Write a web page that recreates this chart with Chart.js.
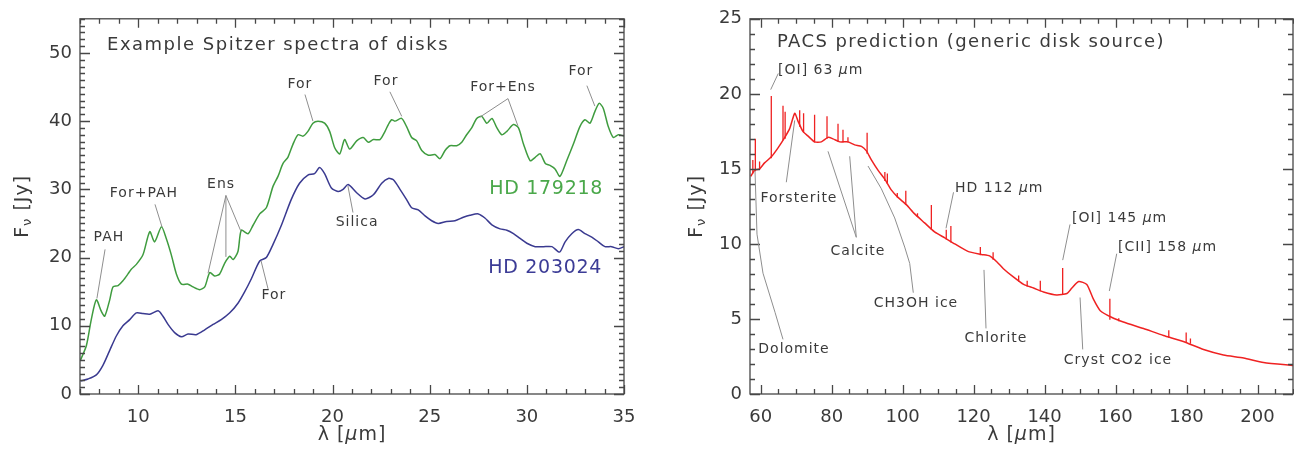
<!DOCTYPE html>
<html>
<head>
<meta charset="utf-8">
<script src="https://cdn.jsdelivr.net/npm/chart.js@4.4.1/dist/chart.umd.min.js"></script>
<style>
  html, body { margin: 0; padding: 0; background: #fff; }
  #wrap { position: relative; width: 1294px; height: 454px; }
  #left { position: absolute; left: 0; top: 0; }
  #right { position: absolute; left: 660px; top: 0; }
</style>
</head>
<body>
<div id="wrap">
  <canvas id="left" width="650" height="454"></canvas>
  <canvas id="right" width="634" height="454"></canvas>
</div>
<script>
// --- left panel: Spitzer spectra ---
const greenLam = [7.03,7.33,7.58,7.84,8.1,8.27,8.53,8.7,8.96,9.21,9.47,9.64,9.9,10.24,10.59,10.84,11.19,11.44,11.7,11.96,12.22,12.56,12.82,13.16,13.42,13.68,13.93,14.19,14.45,14.71,14.88,15.13,15.3,15.65,15.9,16.25,16.59,16.93,17.19,17.45,17.7,17.96,18.22,18.48,18.73,18.99,19.25,19.59,19.85,20.11,20.37,20.62,20.88,21.24,21.58,21.84,22.1,22.44,22.7,22.87,23.04,23.21,23.55,23.81,24.07,24.33,24.59,24.93,25.27,25.53,25.79,26.04,26.39,26.65,26.9,27.16,27.42,27.68,27.94,28.2,28.46,28.71,28.97,29.31,29.57,29.83,30.17,30.43,30.69,30.95,31.19,31.45,31.7,32.05,32.39,32.73,32.99,33.25,33.5,33.72,33.93,34.19,34.45,34.71,35.0];
const greenFlux = [5.0,7.1,10.9,13.8,12.1,11.4,13.8,15.7,15.9,16.6,17.6,18.3,19.0,20.4,23.8,22.3,24.5,22.8,20.4,17.6,16.1,16.1,15.7,15.3,15.7,17.8,17.3,17.6,19.2,20.2,19.7,20.9,24.0,23.5,24.7,26.4,27.3,30.4,31.9,33.8,34.7,36.6,38.0,37.8,38.5,39.7,40.0,39.7,38.5,36.1,35.2,37.3,35.9,37.1,37.6,36.9,37.3,37.3,38.5,39.5,40.2,40.0,40.4,39.2,37.6,37.1,35.7,35.0,35.1,34.5,35.7,36.4,36.4,36.9,38.0,39.0,40.4,40.7,39.7,40.4,39.0,38.0,38.5,39.5,39.0,36.6,34.2,34.7,35.2,33.8,33.5,33.0,31.9,34.2,36.6,39.2,40.2,39.7,41.4,42.6,41.9,39.2,37.6,38.0,37.8];

const blueLam = [7.03,7.41,7.84,8.18,8.53,8.87,9.21,9.56,9.9,10.24,10.59,11.02,11.27,11.53,11.87,12.22,12.56,12.98,13.42,13.85,14.27,14.71,15.13,15.48,15.82,16.25,16.59,16.93,17.36,17.87,18.3,18.73,19.07,19.33,19.59,19.94,20.28,20.54,20.8,21.24,21.67,22.1,22.53,22.87,23.13,23.47,23.81,24.07,24.41,24.76,25.1,25.44,25.87,26.3,26.73,27.07,27.5,27.84,28.2,28.62,28.97,29.31,29.65,30.0,30.43,30.85,31.29,31.68,31.97,32.31,32.65,32.99,33.34,33.68,34.02,34.36,34.71,35.0];
const blueFlux = [1.9,2.2,2.8,4.2,6.4,8.5,10.0,10.9,11.9,11.8,11.7,12.2,11.4,10.2,9.0,8.4,8.8,8.7,9.4,10.2,10.9,11.9,13.3,15.0,16.9,19.5,20.0,21.9,24.7,28.5,30.9,32.1,32.3,33.2,32.3,30.2,29.7,30.0,30.7,29.5,28.6,29.2,30.9,31.6,31.4,30.0,28.5,27.3,27.0,26.1,25.4,25.0,25.3,25.4,25.9,26.2,26.4,25.8,24.8,24.2,24.0,23.5,22.8,22.1,21.6,21.6,21.6,20.8,22.3,23.5,24.1,23.5,23.0,22.3,21.6,21.6,21.3,21.6];

const leftXTicks = [10, 15, 20, 25, 30, 35];
const leftYTicks = [0, 10, 20, 30, 40, 50];

// --- right panel: PACS prediction ---
const pacsLam = [57.2,58.3,59.7,61.1,63.0,64.9,66.8,68.2,69.6,70.5,71.9,73.3,75.2,77.1,79.0,80.4,82.3,84.6,86.5,88.4,89.8,91.2,93.1,95.0,96.8,98.7,101.1,103.4,106.2,109.0,111.9,114.7,118.4,122.2,124.5,126.6,128.4,131.2,134.1,136.9,139.7,143.4,146.3,147.7,149.6,151.9,153.8,155.7,159.0,162.2,167.9,173.5,179.1,184.8,190.4,196.1,201.7,210.0];
const pacsFlux = [14.5,14.9,15.0,15.4,15.8,16.4,17.1,17.7,18.7,18.2,17.5,17.2,16.8,16.8,17.1,17.0,16.8,16.8,16.6,16.5,16.2,15.6,14.9,14.3,13.6,13.1,12.6,12.0,11.4,10.8,10.4,10.0,9.5,9.3,9.2,8.8,8.35,7.8,7.3,7.06,6.8,6.6,6.7,7.06,7.5,7.3,6.3,5.55,5.1,4.8,4.36,3.9,3.5,2.96,2.6,2.4,2.1,1.9];

// emission lines: position, continuum level, peak
const lineLam  = [57.8,58.5,59.7,63.0,66.3,66.9,71.0,72.1,75.2,78.7,81.8,83.2,84.6,90.0,95.0,95.7,98.5,100.9,104.2,108.1,112.3,113.6,121.9,125.5,132.7,135.1,138.8,145.1,158.4,160.9,175.0,179.9,181.1];
const lineBase = [14.7,14.85,14.95,15.7,16.9,17.0,17.8,17.4,16.75,17.0,16.8,16.75,16.75,16.0,14.2,14.0,13.1,12.6,11.8,10.95,10.3,10.1,9.25,8.95,7.5,7.15,6.85,6.6,4.95,4.85,3.75,3.4,3.35];
const lineTop  = [15.6,17.0,15.5,19.85,19.2,18.8,18.9,18.7,18.6,18.5,18.0,17.6,17.1,17.4,14.8,14.7,13.4,13.55,12.05,12.6,10.95,11.2,9.8,9.45,7.9,7.55,7.55,8.4,6.35,5.05,4.25,4.1,3.7];

const rightXTicks = [60, 80, 100, 120, 140, 160, 180, 200];
const rightYTicks = [0, 5, 10, 15, 20, 25];

const FONT = 'DejaVu Sans';
const TEXT = '#3a3a3a';
const AXIS = '#474747';
const LEADER = '#8e8e8e';

// text with an italic mu wherever it appears; sp = letter spacing in px
function drawRich(ctx, text, x, y, size, align, color, sp) {
  ctx.letterSpacing = (sp || 0) + 'px';
  const parts = text.split(/(μ)/).filter(p => p.length);
  const fonts = parts.map(p => (p === 'μ' ? 'italic ' : '') + size + 'px "' + FONT + '"');
  let w = 0;
  const widths = parts.map((p, i) => { ctx.font = fonts[i]; const m = ctx.measureText(p).width; w += m; return m; });
  let cx = align === 'left' ? x : align === 'right' ? x - w : x - w / 2;
  ctx.fillStyle = color || TEXT;
  ctx.textBaseline = 'middle';
  ctx.textAlign = 'left';
  parts.forEach((p, i) => { ctx.font = fonts[i]; ctx.fillText(p, cx, y); cx += widths[i]; });
  ctx.letterSpacing = '0px';
}

const idlPlugin = {
  id: 'idl',
  afterDraw(chart, args, o) {
    const { ctx, chartArea: a, scales: { x, y } } = chart;
    ctx.save();
    // box
    ctx.strokeStyle = AXIS;
    ctx.lineWidth = 1.3;
    ctx.strokeRect(a.left, a.top, a.right - a.left, a.bottom - a.top);
    // inward ticks on all four sides
    ctx.beginPath();
    for (let i = Math.ceil(x.min / o.minorX); i * o.minorX <= x.max + 1e-9; i++) {
      const v = i * o.minorX;
      const px = Math.round(x.getPixelForValue(v)) + 0.5;
      const len = Math.abs(v / o.majorX - Math.round(v / o.majorX)) < 1e-6 ? 9 : 5;
      ctx.moveTo(px, a.bottom); ctx.lineTo(px, a.bottom - len);
      ctx.moveTo(px, a.top); ctx.lineTo(px, a.top + len);
    }
    for (let i = Math.ceil(y.min / o.minorY); i * o.minorY <= y.max + 1e-9; i++) {
      const v = i * o.minorY;
      const py = Math.round(y.getPixelForValue(v)) + 0.5;
      const len = Math.abs(v / o.majorY - Math.round(v / o.majorY)) < 1e-6 ? 10 : 5;
      ctx.moveTo(a.left, py); ctx.lineTo(a.left + len, py);
      ctx.moveTo(a.right, py); ctx.lineTo(a.right - len, py);
    }
    ctx.stroke();

    // leader lines (data coordinates)
    ctx.strokeStyle = LEADER;
    ctx.lineWidth = 1;
    o.leaders.forEach(path => {
      ctx.beginPath();
      for (let k = 0; k < path.length; k += 2) {
        const px = x.getPixelForValue(path[k]), py = y.getPixelForValue(path[k + 1]);
        k === 0 ? ctx.moveTo(px, py) : ctx.lineTo(px, py);
      }
      ctx.stroke();
    });

    // labels
    o.texts.forEach(t => {
      drawRich(ctx, t.text, x.getPixelForValue(t.x), y.getPixelForValue(t.y),
        t.size || 14, t.align || 'center', t.color, t.sp === undefined ? 1 : t.sp);
    });

    // axis titles
    const midX = (a.left + a.right) / 2, midY = (a.top + a.bottom) / 2;
    drawRich(ctx, 'λ [μm]', midX, a.bottom + 41, 19, 'center', TEXT, 1);
    ctx.translate(o.yTitleX, midY);
    ctx.rotate(-Math.PI / 2);
    ctx.letterSpacing = '1px';
    ctx.font = '19px "' + FONT + '"';
    const wF = ctx.measureText('F').width;
    ctx.font = '13px "' + FONT + '"';
    const wNu = ctx.measureText('ν').width;
    ctx.font = '19px "' + FONT + '"';
    const wRest = ctx.measureText(' [Jy]').width;
    let cx = -(wF + wNu + wRest) / 2;
    ctx.fillStyle = TEXT;
    ctx.textBaseline = 'middle';
    ctx.textAlign = 'left';
    ctx.fillText('F', cx, 0); cx += wF;
    ctx.font = '13px "' + FONT + '"';
    ctx.fillText('ν', cx, 5); cx += wNu;
    ctx.font = '19px "' + FONT + '"';
    ctx.fillText(' [Jy]', cx, 0);
    ctx.letterSpacing = '0px';
    ctx.restore();
  }
};

function axes(xmin, xmax, ymin, ymax, xt, yt, yWidth) {
  const tick = { color: TEXT, font: { family: FONT, size: 18 }, maxRotation: 0, autoSkip: false };
  return {
    x: {
      type: 'linear', min: xmin, max: xmax,
      afterBuildTicks: s => { s.ticks = xt.map(v => ({ value: v })); },
      afterFit: s => { s.height = 60; },
      grid: { display: false, drawTicks: false }, border: { display: false },
      ticks: Object.assign({ padding: 13 }, tick)
    },
    y: {
      type: 'linear', min: ymin, max: ymax,
      afterBuildTicks: s => { s.ticks = yt.map(v => ({ value: v })); },
      afterFit: s => { s.width = yWidth; },
      grid: { display: false, drawTicks: false }, border: { display: false },
      ticks: Object.assign({ padding: 8 }, tick)
    }
  };
}

const pts = (xs, ys) => xs.map((v, i) => ({ x: v, y: ys[i] }));

// left chart
new Chart(document.getElementById('left'), {
  type: 'scatter',
  data: {
    datasets: [
      { data: pts(greenLam, greenFlux), showLine: true, borderColor: '#3f9c3f', borderWidth: 1.5, pointRadius: 0, tension: 0.25 },
      { data: pts(blueLam, blueFlux), showLine: true, borderColor: '#3a3a90', borderWidth: 1.5, pointRadius: 0, tension: 0.25 }
    ]
  },
  options: {
    responsive: false, animation: false,
    layout: { padding: { left: 0, right: 26, top: 8, bottom: 0 } },
    scales: axes(7, 35, 0, 55, leftXTicks, leftYTicks, 80),
    plugins: {
      legend: { display: false }, tooltip: { enabled: false },
      idl: {
        minorX: 1, majorX: 5, minorY: 1, majorY: 10, yTitleX: 23,
        leaders: [
          [8.29, 21.2, 7.87, 14.0],
          [10.86, 27.8, 11.22, 24.5],
          [14.51, 29.1, 13.59, 17.7],
          [14.51, 29.1, 14.51, 20.1],
          [14.51, 29.1, 15.29, 23.8],
          [16.32, 19.5, 16.68, 15.4],
          [18.58, 43.9, 18.99, 40.0],
          [22.95, 44.3, 23.56, 40.7],
          [29.03, 43.3, 27.59, 40.6],
          [29.03, 43.3, 29.54, 39.3],
          [33.09, 45.2, 33.5, 42.2],
          [20.79, 30.5, 21.05, 26.6]
        ],
        texts: [
          { text: 'Example Spitzer spectra of disks', x: 8.39, y: 51.15, size: 18, align: 'left', sp: 1.5 },
          { text: 'PAH', x: 8.49, y: 22.9 },
          { text: 'For+PAH', x: 10.29, y: 29.35 },
          { text: 'Ens', x: 14.26, y: 30.8 },
          { text: 'For', x: 16.98, y: 14.4 },
          { text: 'For', x: 18.32, y: 45.45 },
          { text: 'For', x: 22.75, y: 45.9 },
          { text: 'For+Ens', x: 28.77, y: 45.0 },
          { text: 'For', x: 32.78, y: 47.3 },
          { text: 'Silica', x: 21.26, y: 25.2 },
          { text: 'HD 179218', x: 33.92, y: 30.1, size: 19, align: 'right', color: '#4aa84a', sp: 0.7 },
          { text: 'HD 203024', x: 33.87, y: 18.4, size: 19, align: 'right', color: '#3c3c96', sp: 0.7 }
        ]
      }
    }
  },
  plugins: [idlPlugin]
});

// emission lines as vertical strokes from continuum to peak
const lineData = [];
lineLam.forEach((l, i) => {
  lineData.push({ x: l, y: lineBase[i] }, { x: l, y: lineTop[i] }, { x: l, y: null });
});

new Chart(document.getElementById('right'), {
  type: 'scatter',
  data: {
    datasets: [
      { data: pts(pacsLam, pacsFlux), showLine: true, borderColor: '#ef2222', borderWidth: 1.5, pointRadius: 0, tension: 0.2 },
      { data: lineData, showLine: true, spanGaps: false, borderColor: '#ef2222', borderWidth: 1.3, pointRadius: 0 }
    ]
  },
  options: {
    responsive: false, animation: false,
    layout: { padding: { left: 0, right: 1, top: 9, bottom: 0 } },
    scales: axes(57, 210, 0, 25, rightXTicks, rightYTicks, 90),
    plugins: {
      legend: { display: false }, tooltip: { enabled: false },
      idl: {
        minorX: 5, majorX: 20, minorY: 1, majorY: 5, yTitleX: 37,
        leaders: [
          [64.97, 21.36, 62.83, 20.28],
          [67.23, 14.11, 69.6, 18.23],
          [86.95, 10.44, 78.98, 16.17],
          [86.95, 10.44, 85.09, 15.84],
          [90.25, 15.19, 94.0, 13.68, 97.77, 11.73, 100.59, 9.79, 102.0, 8.7, 103.01, 6.75],
          [58.41, 14.87, 58.97, 10.65, 60.66, 8.05, 64.04, 5.45, 66.3, 3.64],
          [114.34, 13.44, 112.23, 11.04],
          [147.17, 11.3, 145.11, 8.92],
          [160.33, 9.35, 158.24, 6.86],
          [122.93, 8.27, 123.5, 4.37],
          [150.0, 6.43, 150.75, 2.97]
        ],
        texts: [
          { text: 'PACS prediction (generic disk source)', x: 64.6, y: 23.44, size: 18, align: 'left', sp: 1.4 },
          { text: '[OI] 63 μm', x: 64.9, y: 21.56, align: 'left' },
          { text: 'Forsterite', x: 70.8, y: 13.05 },
          { text: 'Calcite', x: 87.43, y: 9.48 },
          { text: 'CH3OH ice', x: 103.77, y: 6.04 },
          { text: 'Dolomite', x: 69.4, y: 2.99 },
          { text: 'HD 112 μm', x: 114.76, y: 13.7, align: 'left' },
          { text: '[OI] 145 μm', x: 147.73, y: 11.69, align: 'left' },
          { text: '[CII] 158 μm', x: 160.69, y: 9.74, align: 'left' },
          { text: 'Chlorite', x: 126.3, y: 3.7 },
          { text: 'Cryst CO2 ice', x: 160.7, y: 2.27 }
        ]
      }
    }
  },
  plugins: [idlPlugin]
});
</script>
</body>
</html>
